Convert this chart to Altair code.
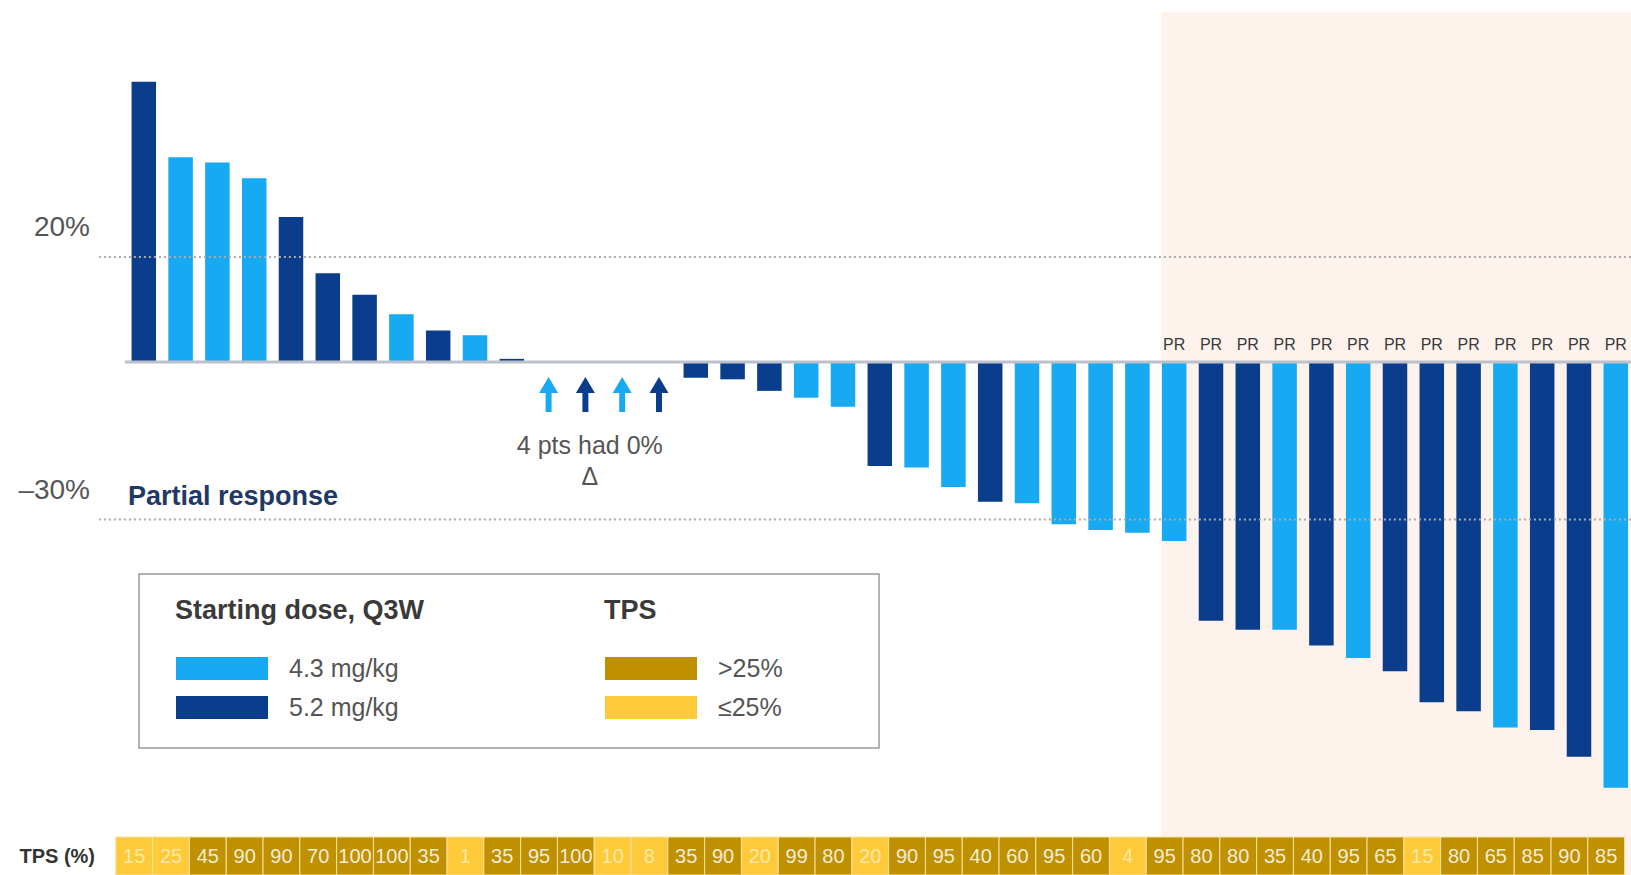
import altair as alt
import pandas as pd

# ---- canvas and scale geometry (pixels) ----
W, H = 1631, 875
ZERO_Y = 362          # pixel row of the 0 % line
PX_PER_PCT = 5.25     # vertical pixels per percentage point
FIRST_X = 143.8       # pixel centre of patient 1
STEP = 36.8           # pixel distance between neighbouring patients

LIGHT = "#17A9F1"
DARK = "#0A3D8C"
GOLD = "#BF9000"
YELLOW = "#FFCA3A"
PEACH = "#FDF3EC"
FONT = "Arial"

# ---- data ----
# best % change in tumour size per patient, sorted
change = [53.4, 39.0, 38.0, 35.0, 27.6, 16.9, 12.8, 9.1, 6.0, 5.1, 0.6,
          0, 0, 0, 0,
          -3.0, -3.3, -5.5, -6.8, -8.5, -19.8, -20.1, -23.8, -26.6, -26.9,
          -30.9, -32.0, -32.5,
          -34.1, -49.3, -51.0, -51.0, -54.0, -56.4, -58.9, -64.8, -66.5,
          -69.6, -70.1, -75.2, -81.1]
# starting dose: L = 4.3 mg/kg, D = 5.2 mg/kg
dose_code = ["D", "L", "L", "L", "D", "D", "D", "L", "D", "L", "D",
             "L", "D", "L", "D",
             "D", "D", "D", "L", "L", "D", "L", "L", "D", "L", "L", "L", "L",
             "L", "D", "D", "L", "D", "L", "D", "D", "D", "L", "D", "D", "L"]
tps = [15, 25, 45, 90, 90, 70, 100, 100, 35, 1, 35, 95, 100, 10, 8, 35, 90,
       20, 99, 80, 20, 90, 95, 40, 60, 95, 60, 4, 95, 80, 80, 35, 40, 95, 65,
       15, 80, 65, 85, 90, 85]
response = [""] * 28 + ["PR"] * 13

dose_levels = ["4.3 mg/kg", "5.2 mg/kg"]
dose_name = {"L": dose_levels[0], "D": dose_levels[1]}
tps_levels = [">25%", "≤25%"]

ref_values = [20, -30]
ref_labels = ["20%", "–30%"]
ref_notes = ["", "Partial response"]

df = pd.DataFrame({
    "patient": list(range(1, len(change) + 1)),
    "change": change,
    "dose": [dose_name[c] for c in dose_code],
    "tps": tps,
    "tps_group": [tps_levels[0] if t > 25 else tps_levels[1] for t in tps],
    "response": response,
})
ref_df = pd.DataFrame({"value": ref_values, "label": ref_labels, "note": ref_notes})

# ---- scales: patient index and % change mapped straight onto the canvas ----
x_lo = 1 - FIRST_X / STEP
x_hi = x_lo + W / STEP
y_hi = ZERO_Y / PX_PER_PCT
y_lo = y_hi - H / PX_PER_PCT
xs = alt.Scale(domain=[x_lo, x_hi], nice=False, zero=False)
ys = alt.Scale(domain=[y_lo, y_hi], nice=False, zero=False)

SWATCH = "M-1,-1H7V1H-1Z"
ARROW = ("M0,0.857L0.543,1.771L0.171,1.771L0.171,2.857"
         "L-0.171,2.857L-0.171,1.771L-0.543,1.771Z")

legend_common = dict(
    orient="none", direction="vertical", symbolType=SWATCH, symbolSize=529,
    symbolStrokeWidth=0, labelOffset=89, rowPadding=13, titlePadding=31,
    titleFontSize=27, titleFont=FONT, titleColor="#3A3A3A",
    titleFontWeight="bold", labelFontSize=25, labelFont=FONT,
    labelColor="#555555", padding=0, labelLimit=300, titleLimit=500,
)

color_enc = alt.Color(
    "dose:N",
    scale=alt.Scale(domain=dose_levels, range=[LIGHT, DARK]),
    legend=alt.Legend(title="Starting dose, Q3W", legendX=175, legendY=598,
                      **legend_common),
)
fill_enc = alt.Fill(
    "tps_group:N",
    scale=alt.Scale(domain=tps_levels, range=[GOLD, YELLOW]),
    legend=alt.Legend(title="TPS", legendX=604, legendY=598, **legend_common),
)

# responder region shading
pr_start = df.loc[df["response"] == "PR", "patient"].min()
peach = alt.Chart(pd.DataFrame({"x0": [pr_start - 0.36], "x1": [x_hi]})).mark_rect(
    color=PEACH
).encode(
    x=alt.X("x0:Q", scale=xs, axis=None), x2="x1:Q",
    y=alt.value(12), y2=alt.value(H),
)

legend_box = alt.Chart(pd.DataFrame({"k": [0]})).mark_rect(
    fill="white", stroke="#9A9A9A", strokeWidth=1.5
).encode(x=alt.value(139), x2=alt.value(879), y=alt.value(574), y2=alt.value(748))

bars = alt.Chart(df).transform_filter("datum.change != 0").transform_calculate(
    x0="datum.patient - 0.333", x1="datum.patient + 0.333"
).mark_rect().encode(
    x=alt.X("x0:Q", scale=xs, axis=None), x2="x1:Q",
    y=alt.Y("change:Q", scale=ys, axis=None), y2=alt.datum(0),
    color=color_enc,
)

baseline = alt.Chart(pd.DataFrame({"x0": [0.49], "x1": [x_hi], "y": [0]})).mark_rule(
    color="#BDC1CC", strokeWidth=3
).encode(
    x=alt.X("x0:Q", scale=xs, axis=None), x2="x1:Q",
    y=alt.Y("y:Q", scale=ys, axis=None),
)

ref_lines = alt.Chart(ref_df).transform_calculate(
    x0=str(-0.22), x1=str(x_hi)
).mark_rule(color="#ABABAB", strokeWidth=2, strokeDash=[2, 3]).encode(
    x=alt.X("x0:Q", scale=xs, axis=None), x2="x1:Q",
    y=alt.Y("value:Q", scale=ys, axis=None),
)

ref_text = alt.Chart(ref_df).mark_text(
    align="right", baseline="middle", dy=-29, fontSize=28, font=FONT,
    color="#555555"
).encode(x=alt.value(90), y=alt.Y("value:Q", scale=ys, axis=None), text="label:N")

pr_note = alt.Chart(ref_df).mark_text(
    align="left", baseline="middle", dy=-23, fontSize=27, font=FONT,
    fontWeight="bold", color="#1F3864"
).encode(x=alt.value(128), y=alt.Y("value:Q", scale=ys, axis=None), text="note:N")

pr_labels = alt.Chart(df).transform_filter("datum.response == 'PR'").transform_calculate(
    zero="0"
).mark_text(
    baseline="middle", dy=-17, fontSize=16, font=FONT, color="#3A3A3A"
).encode(
    x=alt.X("patient:Q", scale=xs, axis=None),
    y=alt.Y("zero:Q", scale=ys, axis=None),
    text="response:N",
)

arrows = alt.Chart(df).transform_filter("datum.change == 0").mark_point(
    shape=ARROW, size=1225, filled=True, opacity=1
).encode(
    x=alt.X("patient:Q", scale=xs, axis=None),
    y=alt.Y("change:Q", scale=ys, axis=None),
    color=color_enc,
)

zero_note = alt.Chart(df).transform_filter("datum.change == 0").transform_aggregate(
    mid="mean(patient)", n="count()"
).transform_calculate(
    note="[datum.n + ' pts had 0%', 'Δ']"
).mark_text(
    align="center", baseline="top", dx=-14, fontSize=25, font=FONT,
    color="#555555", lineHeight=31
).encode(x=alt.X("mid:Q", scale=xs, axis=None), y=alt.value(434), text="note:N")

cells = alt.Chart(df).transform_calculate(
    c0="datum.patient - 0.76", c1="datum.patient + 0.24"
).mark_rect(stroke="#F7E2A0", strokeWidth=1).encode(
    x=alt.X("c0:Q", scale=xs, axis=None), x2="c1:Q",
    y=alt.value(837), y2=alt.value(H),
    fill=fill_enc,
)

cell_text = alt.Chart(df).transform_calculate(
    cm="datum.patient - 0.26"
).mark_text(baseline="middle", fontSize=20, font=FONT).encode(
    x=alt.X("cm:Q", scale=xs, axis=None),
    y=alt.value(857),
    text="tps:Q",
    color=alt.condition("datum.tps > 25", alt.value("#F3ECD4"), alt.value("#FFE9A8")),
)

row_label = alt.Chart(pd.DataFrame({"t": ["TPS (%)"]})).mark_text(
    align="right", baseline="middle", fontSize=20, font=FONT,
    fontWeight="bold", color="#333333"
).encode(x=alt.value(95), y=alt.value(857), text="t:N")

chart = alt.layer(
    peach, legend_box, bars, baseline, ref_lines, ref_text, pr_note,
    pr_labels, arrows, zero_note, cells, cell_text, row_label,
).properties(
    width=W, height=H, padding=0, background="white",
    autosize=alt.AutoSizeParams(type="none"),
).configure_view(stroke=None)

chart.save("out.html", embed_options={"renderer": "svg", "actions": False})
